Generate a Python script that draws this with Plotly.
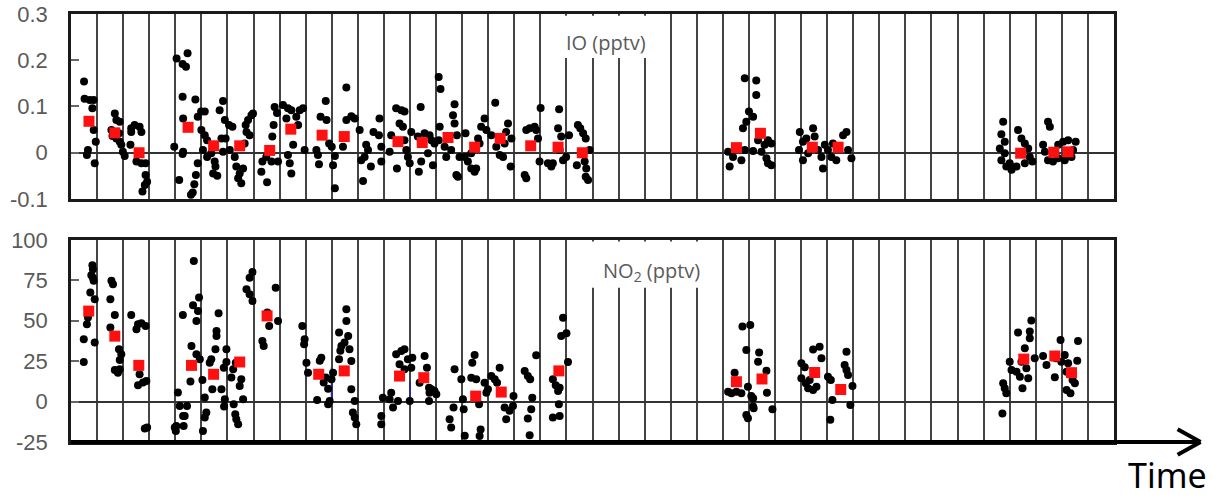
import plotly.graph_objects as go

# ---------------- IO (pptv) panel ----------------
io_x = [0.50, 0.52, 0.72, 0.87, 0.82, 0.87, 0.95, 0.65, 0.61, 0.91,
        1.68, 1.74, 1.87, 1.55, 1.59, 1.74, 1.87, 1.93, 1.99, 2.06, 1.84,
        2.31, 2.44, 2.63, 2.70, 2.31, 2.28, 2.51, 2.70, 2.86, 2.86, 2.92, 2.83, 2.74,
        3.96, 4.15, 4.05, 4.28, 4.47, 4.41, 4.28, 4.77, 4.30, 4.86, 4.99, 4.30, 4.28, 4.86, 4.79, 4.73, 4.60, 4.67,
        5.13, 5.00, 5.13, 5.22, 5.06, 5.22, 5.38, 5.51, 5.54, 5.45, 5.61, 5.70, 5.83, 5.90, 5.93, 5.83, 5.77,
        6.06, 6.19, 6.09, 6.28, 6.34, 6.47, 6.41, 6.53, 6.60, 6.70, 6.79, 6.92, 6.98, 6.85, 6.66, 6.73,
        7.34, 7.30, 7.52, 7.49, 7.69, 7.72, 7.77, 7.90, 7.94, 7.81,
        8.13, 8.32, 8.45, 8.26, 8.64, 8.77, 8.90, 8.32, 8.39, 8.45, 8.52, 8.71, 8.96,
        9.41, 9.47, 9.51, 9.57, 9.77, 9.80, 9.90, 10.00, 10.05, 10.12, 10.12,
        10.56, 10.56, 10.75, 10.88, 10.43, 11.07, 11.13, 11.20, 11.32, 11.26,
        11.83, 11.81, 11.90, 11.90, 11.39, 11.50, 11.60,
        12.47, 12.67, 12.79, 12.60, 12.73, 12.28, 12.22, 12.86, 12.92, 12.99, 12.50, 12.79,
        13.41, 13.05, 13.30, 13.56, 13.75, 13.82, 13.43, 13.34, 13.69, 13.88, 13.94,
        14.10, 14.17, 14.14, 14.10, 14.33, 14.39, 14.65, 14.71, 14.71, 14.58, 14.78, 14.84, 14.90, 14.80,
        15.13, 15.10, 15.22, 15.35, 15.48, 15.54, 15.67, 15.73, 15.86, 15.93, 15.61, 15.35,
        16.27, 16.12, 16.31, 16.44, 16.63, 16.76, 16.69, 16.89, 16.86, 16.57,
        17.40, 17.46, 17.46, 17.59, 17.84, 17.91, 17.97, 17.78, 18.01,
        18.29, 18.42, 18.48, 18.68, 18.72, 18.80, 18.87, 18.99, 18.74, 19.10,
        19.44, 19.53, 19.64, 19.74, 19.40, 19.76, 19.74, 19.83, 19.70, 19.89,
        25.84, 26.28, 26.28, 26.00, 26.16, 25.90, 25.77, 25.20, 25.26, 25.39, 25.71, 25.84, 26.16,
        26.35, 26.60, 26.73, 26.48, 26.67, 26.73, 26.86, 26.86,
        27.95, 27.92, 28.07, 28.20, 28.46, 28.52, 28.27, 28.07, 28.65, 28.78, 28.84, 28.91,
        29.03, 29.16, 29.35, 29.61, 29.74, 29.80, 29.93, 29.22,
        35.75, 35.68, 35.81, 35.62, 35.68, 35.81, 36.00, 36.07, 35.87,
        36.32, 36.45, 36.58, 36.71, 36.77, 36.58, 36.26, 36.87,
        37.47, 37.54, 37.28, 37.35, 37.47, 37.66, 37.86, 37.86,
        38.05, 38.24, 38.53, 38.37, 38.11, 38.43]
io_y = [0.154, 0.117, 0.114, 0.114, 0.096, 0.049, 0.024, 0.006, -0.005, -0.023,
        0.085, 0.071, 0.067, 0.049, 0.036, 0.031, 0.024, 0.017, 0.002, -0.007, 0.042,
        0.053, 0.060, 0.056, 0.045, 0.045, 0.017, -0.019, -0.023, -0.023, -0.048, -0.063, -0.070, -0.084,
        0.013, -0.059, 0.204, 0.192, 0.215, 0.186, 0.121, 0.115, 0.074, 0.078, 0.089, 0.002, -0.003, -0.023, -0.048, -0.068, -0.091, -0.086,
        0.089, 0.049, 0.038, 0.027, 0.006, -0.009, -0.001, -0.019, -0.030, -0.045, -0.050, 0.092, 0.112, 0.071, 0.031, 0.002, 0.031,
        0.060, 0.056, 0.006, -0.009, -0.030, -0.045, -0.055, -0.066, -0.034, 0.060, 0.071, 0.081, 0.085, 0.038, 0.020, 0.045,
        -0.019, -0.041, -0.064, -0.009, -0.019, 0.035, 0.060, 0.086, -0.019, 0.099,
        0.103, 0.096, 0.092, 0.074, 0.078, 0.092, 0.096, -0.005, -0.023, -0.045, 0.017, 0.060, 0.006,
        0.006, -0.005, -0.025, 0.078, 0.112, 0.071, 0.020, 0.013, -0.027, -0.077, -0.007,
        0.141, 0.071, 0.079, 0.074, 0.013, 0.049, -0.016, -0.061, 0.017, -0.009,
        0.074, 0.038, 0.013, -0.019, 0.006, -0.030, 0.045,
        0.096, 0.092, 0.089, 0.063, 0.056, 0.038, 0.002, 0.006, -0.009, -0.023, -0.034, 0.027,
        0.099, 0.045, 0.035, 0.042, 0.038, 0.027, -0.019, -0.041, -0.001, -0.027, 0.020,
        0.164, 0.138, 0.056, 0.027, 0.013, -0.009, 0.081, 0.105, 0.063, 0.006, -0.048, -0.052, -0.009, 0.038,
        0.042, -0.009, -0.019, -0.034, -0.041, -0.034, 0.020, 0.056, 0.074, 0.049, 0.031, -0.001,
        0.108, 0.038, 0.013, -0.005, 0.020, 0.063, 0.045, 0.031, -0.030, -0.009,
        -0.048, -0.055, 0.049, 0.053, 0.049, 0.031, -0.019, 0.056, 0.097,
        -0.023, -0.030, -0.023, 0.053, 0.094, 0.035, -0.016, -0.009, 0.006, 0.038,
        0.060, 0.053, 0.042, 0.031, -0.027, -0.034, -0.052, -0.059, -0.019, 0.006,
        0.161, 0.156, 0.125, 0.089, 0.078, 0.067, 0.053, 0.002, -0.030, -0.009, -0.016, 0.006, 0.004,
        0.027, 0.017, 0.027, 0.002, -0.012, -0.023, -0.027, 0.020,
        0.045, 0.006, 0.024, 0.031, 0.053, 0.035, -0.001, -0.016, 0.006, -0.009, -0.034, 0.017,
        0.006, -0.009, -0.016, 0.038, 0.045, 0.006, -0.012, 0.020,
        0.067, 0.040, 0.024, 0.009, -0.016, -0.001, -0.023, -0.037, -0.030,
        0.049, 0.031, 0.020, 0.009, -0.009, -0.023, -0.030, -0.019,
        0.067, 0.056, 0.017, 0.002, -0.016, -0.019, -0.012, 0.017,
        0.024, 0.027, 0.024, -0.009, -0.016, 0.006]
io_mean_x = [0.69, 1.68, 2.61, 4.49, 5.47, 6.47, 7.62, 8.43, 9.63, 10.48, 12.54, 13.47,
             14.46, 15.48, 16.46, 17.63, 18.68, 19.61, 25.52, 26.44, 28.43, 29.42,
             36.42, 37.69, 38.24]
io_mean_y = [0.068, 0.043, 0.000, 0.055, 0.015, 0.015, 0.005, 0.051, 0.038, 0.035, 0.024, 0.022,
             0.033, 0.012, 0.031, 0.015, 0.012, 0.000, 0.011, 0.042, 0.012, 0.012,
             -0.001, 0.001, 0.002]

# ---------------- NO2 (pptv) panel ----------------
no2_x = [0.82, 0.84, 0.78, 0.84, 0.87, 0.91, 0.74, 0.65, 0.61, 0.49, 0.91, 0.49,
         1.55, 1.61, 1.51, 1.68, 1.51, 1.84, 1.93, 1.87, 1.68, 1.80, 1.87,
         2.31, 2.57, 2.70, 2.86, 2.51, 2.63, 2.57, 2.76, 2.89, 2.83, 2.92,
         4.10, 4.17, 4.04, 4.02, 4.30, 4.29, 3.98,
         4.71, 4.91, 4.68, 4.87, 4.81, 4.62, 4.81, 4.94, 4.58, 4.45, 4.36, 4.32, 5.06, 5.04,
         5.13, 5.19, 5.13, 5.32, 5.38, 5.54, 5.58, 5.58, 5.66, 5.42, 5.77, 5.86, 5.90, 5.87, 5.96, 5.96,
         6.22, 6.15, 6.24, 6.30, 6.34, 6.41, 6.47, 6.53, 6.60, 6.32,
         6.85, 6.96, 6.73, 6.85, 6.96, 7.34, 7.39, 7.60, 7.53, 7.94, 7.85,
         8.87, 8.96, 8.94,
         9.03, 9.09, 9.44, 9.54, 9.60, 9.69, 9.77, 9.86, 9.92, 9.99, 10.05, 9.86,
         10.28, 10.37, 10.56, 10.56, 10.63, 10.33, 10.28, 10.49, 10.68, 10.75, 10.75, 10.88, 10.81, 10.88, 10.94,
         11.90, 11.90, 11.96,
         12.28, 12.22, 12.35, 12.54, 12.47, 12.67, 12.79, 12.60, 12.79, 12.92, 12.99,
         13.09, 13.05, 13.37, 13.56, 13.65, 13.73, 13.75, 13.94, 14.01, 13.73, 13.82,
         14.52, 14.58, 14.67, 14.71, 14.97, 15.03, 15.06, 15.10,
         15.35, 15.39, 15.48, 15.54, 15.65, 15.71, 15.67, 15.86, 15.93, 15.99,
         16.12, 16.25, 16.44, 16.34, 16.63, 16.69, 16.82, 16.95, 16.97,
         17.40, 17.52, 17.61, 17.69, 17.65, 17.52, 17.84, 17.59,
         18.48, 18.59, 18.68, 18.74, 18.71, 18.48, 18.74, 18.87, 18.80, 19.00, 19.06,
         25.45, 25.20, 25.33, 25.52, 25.71, 25.75, 26.05, 25.90, 25.96, 26.09, 26.16, 25.90, 25.96,
         26.39, 26.35, 26.67, 26.69, 26.90, 26.16, 26.18,
         28.01, 28.01, 28.14, 28.18, 28.46, 28.71, 28.78, 28.27, 28.46, 28.59, 28.33,
         29.03, 29.14, 29.12, 29.20, 29.74, 29.67, 29.74, 29.80, 29.97, 29.89,
         35.75, 35.81, 35.87, 35.72, 36.00, 36.07,
         36.32, 36.83, 36.77, 36.77, 36.58, 36.45, 36.26, 36.39, 36.49, 36.71, 36.64, 36.96,
         37.28, 37.41, 37.73, 37.77, 37.95, 37.98,
         38.11, 38.24, 38.62, 38.59, 38.18, 38.33, 38.41, 38.50, 38.18]
no2_y = [84.4, 81.9, 78.2, 76.7, 74.7, 63.3, 67.5, 52.0, 47.9, 38.6, 36.5, 24.5,
         74.7, 72.6, 63.3, 53.6, 45.8, 32.4, 29.3, 25.8, 19.6, 17.9, 20.0,
         53.6, 47.9, 48.5, 46.8, 44.8, 16.9, 10.1, 11.8, 12.8, -16.7, -16.1,
         5.6, -2.7, -15.1, -18.2, -8.9, 53.6, -16.1,
         87.0, 64.4, 59.6, 56.1, 49.9, 34.4, 29.3, 26.2, 12.4, -2.7, -8.9, -15.1, -18.2, 13.4,
         2.5, -6.8, -9.9, 24.1, 26.2, 32.4, 40.6, 43.7, 54.7, 7.6, 7.6, 21.0, 1.4, -3.1, 24.5, 32.4,
         20.0, 14.9, -1.7, -7.8, -10.9, -14.0, 9.7, 13.8, 1.4, 24.1,
         76.7, 80.2, 69.5, 66.4, 62.3, 37.5, 34.4, 46.8, 55.1, 49.9, 70.5,
         46.8, 38.6, 35.5,
         24.1, 17.9, 1.0, 25.2, 27.2, 11.8, 14.9, -1.7, 0.4, 13.8, 17.9, 8.0,
         42.7, 34.4, 57.1, 49.9, 40.6, 31.4, 26.2, 36.5, 32.4, 25.1, 7.6, 0.4, -6.8, -9.9, -14.0,
         -8.9, -14.0, 2.4,
         5.5, 1.4, -3.7, 0.4, 29.3, 31.3, 32.4, 23.1, 20.0, 26.2, 0.4,
         27.2, 21.0, 11.7, 28.2, 21.0, 8.6, 5.5, 6.6, 4.5, 0.4, 7.6,
         -10.9, -16.1, -3.7, 20.0, 13.8, 1.4, -4.7, -21.2,
         14.8, 24.1, 28.8, 13.8, -1.7, -17.2, -21.3, 11.7, 5.5, 7.6,
         15.8, 13.8, 21.0, 11.7, -3.7, -10.9, -5.7, -2.7, 3.5,
         19.0, 15.8, 13.8, 2.4, -4.7, -10.5, 28.6, -20.8,
         13.8, 10.1, 6.6, 8.6, -1.7, -9.9, -8.9, 51.9, 40.6, 42.3, 24.5,
         17.9, 6.1, 5.1, 6.1, 5.1, 46.4, 47.4, 31.9, 9.2, 3.5, -3.1, -8.3, -10.3,
         30.3, 24.7, 19.1, 5.5, -4.8, 2.0, -4.1,
         23.7, 14.4, 21.2, 11.3, 32.3, 34.0, 26.8, 8.2, 7.2, 9.2, 13.4,
         15.4, 13.4, -11.3, 1.0, 30.9, 22.6, 19.6, 16.5, 9.7, -2.1,
         11.3, 8.2, 5.1, -7.3, 24.7, 19.6,
         42.7, 50.1, 43.3, 39.2, 33.0, 24.7, 18.5, 15.4, 8.2, 14.4, 20.6, 26.8,
         28.2, 22.6, 15.0, 26.8, 38.1, 24.7,
         28.8, 23.7, 37.5, 25.3, 7.2, 5.1, 13.4, 11.3, 18.5]
no2_mean_x = [0.68, 1.68, 2.60, 4.62, 5.47, 6.47, 7.52, 9.50, 10.48, 12.60, 13.53,
              15.52, 16.50, 18.71, 25.52, 26.50, 28.52, 29.52, 36.54, 37.73, 38.37]
no2_mean_y = [56.0, 40.5, 22.4, 22.4, 16.9, 24.5, 53.0, 16.9, 19.0, 15.8, 14.8,
              3.4, 5.9, 19.0, 12.3, 14.0, 18.0, 7.5, 26.3, 28.2, 17.9]
# small blue range bars in the NO2 panel
no2_bar_x = [10.0, 13.0]
no2_bar_lo = [1.0, 1.0]
no2_bar_hi = [21.0, 12.5]

io_ticks = [-0.1, 0, 0.1, 0.2, 0.3]
io_ticktext = ["-0.1", "0", "0.1", "0.2", "0.3"]
no2_ticks = [-25, 0, 25, 50, 75, 100]
no2_ticktext = ["-25", "0", "25", "50", "75", "100"]

DOT = dict(color="#000000", size=8)
MEAN = dict(color="#ff1010", size=11, symbol="square")

fig = go.Figure()
fig.add_trace(go.Scatter(x=io_x, y=io_y, mode="markers", marker=DOT,
                         xaxis="x", yaxis="y", showlegend=False))
fig.add_trace(go.Scatter(x=io_mean_x, y=io_mean_y, mode="markers", marker=MEAN,
                         xaxis="x", yaxis="y", showlegend=False))

bx, by = [], []
for xv, lo, hi in zip(no2_bar_x, no2_bar_lo, no2_bar_hi):
    bx += [xv, xv, None]
    by += [lo, hi, None]
fig.add_trace(go.Scatter(x=bx, y=by, mode="lines", line=dict(color="#2a2aa0", width=2),
                         xaxis="x2", yaxis="y2", showlegend=False))
fig.add_trace(go.Scatter(x=no2_x, y=no2_y, mode="markers", marker=DOT,
                         xaxis="x2", yaxis="y2", showlegend=False))
fig.add_trace(go.Scatter(x=no2_mean_x, y=no2_mean_y, mode="markers", marker=MEAN,
                         xaxis="x2", yaxis="y2", showlegend=False))

tickfont = dict(family="Liberation Sans, Arial, sans-serif", size=22, color="#5a5a5a")
xcommon = dict(range=[0, 40], showgrid=True, dtick=1, tick0=0, gridcolor="#444444",
               gridwidth=1.7, showticklabels=False, ticks="", zeroline=False,
               showline=True, mirror=True, linecolor="#1a1a1a", linewidth=2.5)
ycommon = dict(showgrid=False, zeroline=True, zerolinecolor="#333333", zerolinewidth=1.6,
               showline=True, mirror=True, linecolor="#1a1a1a", linewidth=2.5,
               ticks="inside", ticklen=8, tickwidth=1.5, tickcolor="#666666",
               tickfont=tickfont, ticklabelstandoff=16, automargin=False)

fig.update_layout(
    width=1227, height=499,
    margin=dict(l=71, r=113, t=14, b=57, autoexpand=False),
    paper_bgcolor="white", plot_bgcolor="white",
    xaxis=dict(domain=[0, 1], anchor="y", **xcommon),
    yaxis=dict(domain=[0.5678, 1.0], anchor="x", range=[-0.1, 0.3],
               tickvals=io_ticks, ticktext=io_ticktext, **ycommon),
    xaxis2=dict(domain=[0, 1], anchor="y2", **xcommon),
    yaxis2=dict(domain=[0.0, 0.472], anchor="x2", range=[-25, 100],
                tickvals=no2_ticks, ticktext=no2_ticktext, **ycommon),
)

# white boxes behind panel labels (interrupt gridlines)
fig.add_shape(type="rect", xref="x", yref="y", x0=18.5, x1=22.5, y0=0.205, y1=0.296,
              fillcolor="white", line=dict(width=0), layer="above")
fig.add_shape(type="rect", xref="x2", yref="y2", x0=19.5, x1=24.5, y0=70.5, y1=99.0,
              fillcolor="white", line=dict(width=0), layer="above")

labfont = dict(family="Open Sans, sans-serif", size=20, color="#5a5a5a")
fig.add_annotation(text="IO (pptv)", xref="x", yref="y", x=20.5, y=0.239,
                   showarrow=False, font=labfont)
fig.add_annotation(text="NO<sub>2</sub> (pptv)", xref="x2", yref="y2", x=22.25, y=80.5,
                   showarrow=False, font=labfont)

# time arrow along the bottom
fig.add_shape(type="line", xref="paper", yref="paper", x0=0, x1=1.081, y0=0.0, y1=0.0,
              line=dict(color="#000000", width=4), layer="above")
fig.add_shape(type="line", xref="paper", yref="paper", x0=1.061, x1=1.083, y0=0.030, y1=0.0,
              line=dict(color="#000000", width=4), layer="above")
fig.add_shape(type="line", xref="paper", yref="paper", x0=1.061, x1=1.083, y0=-0.030, y1=0.0,
              line=dict(color="#000000", width=4), layer="above")
fig.add_annotation(text="Time", xref="paper", yref="paper", x=1.0515, y=-0.077,
                   xanchor="center", yanchor="middle", showarrow=False,
                   font=dict(family="Noto Sans, sans-serif", size=34, color="#000000"))

# remove the page's default body margin so the figure sits at the window's corner
fig.write_html("out.html",
               config={"displayModeBar": False},
               post_script="document.body.style.margin='0px';document.body.style.overflow='hidden';")
